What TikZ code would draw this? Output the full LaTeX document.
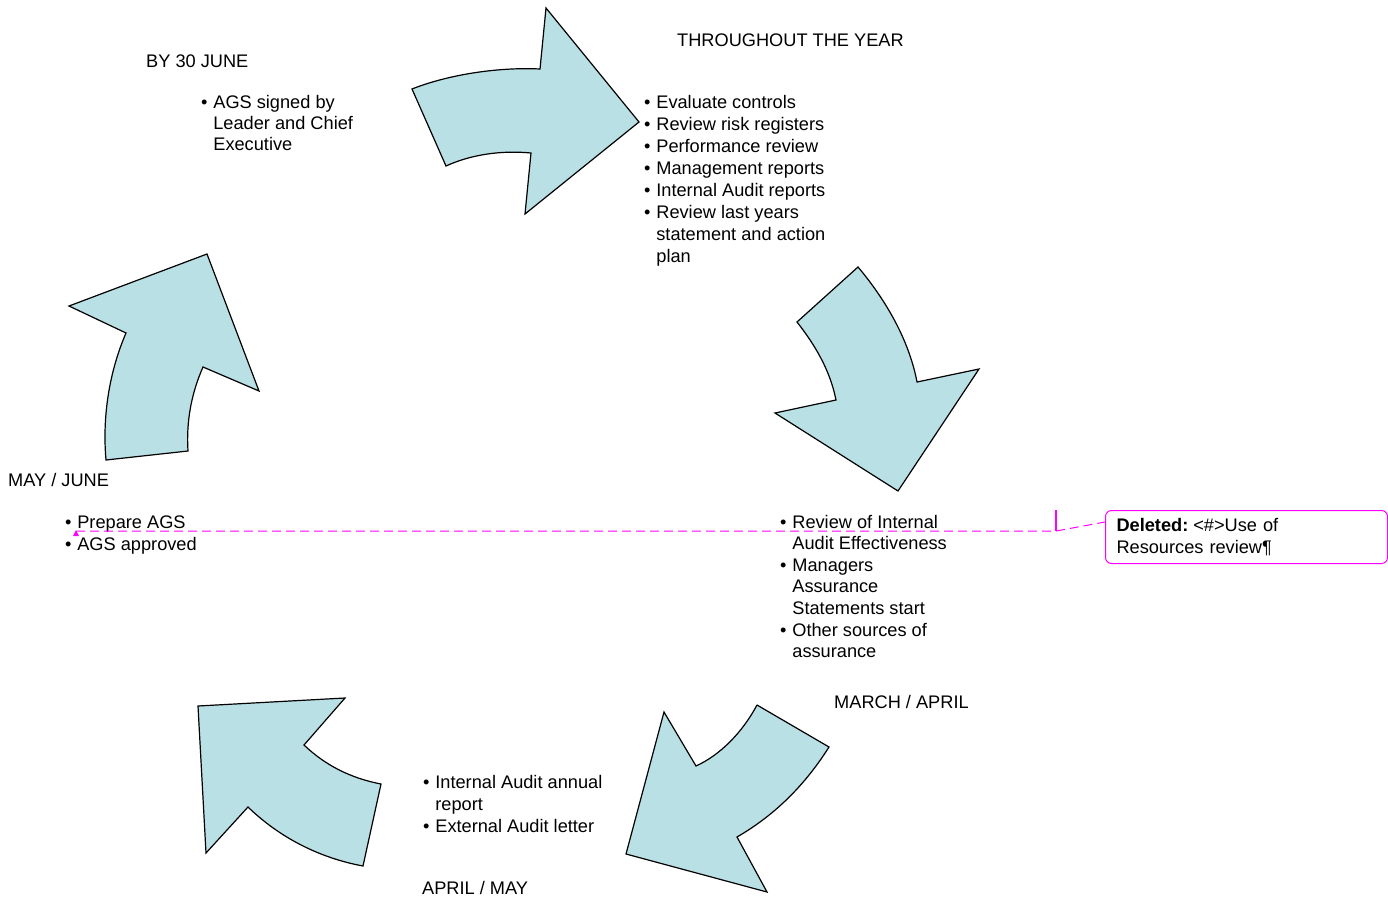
\documentclass[tikz,border=0pt]{standalone}
\usepackage{fontspec}
\setmainfont{Liberation Sans}
\definecolor{arrowfill}{RGB}{185,224,228}
\definecolor{markup}{RGB}{255,0,255}
\newcommand{\bulletlist}[1]{\begin{tabular}[t]{@{}l@{\hspace{6pt}}l@{}}#1\end{tabular}}
\tikzset{
  cyclearrow/.style={fill=arrowfill, draw=black, line width=1.2pt},
  lbl/.style={anchor=base west, inner sep=0pt},
}
\begin{document}
\begin{tikzpicture}[x=1pt, y=-1pt, font=\fontsize{18.2}{22.1}\selectfont]
\useasboundingbox (0,0) rectangle (1388,902);
% the five arrows
\draw[cyclearrow] (412,89) .. controls (450,74) and (500,67) .. (540,69) -- (546,8) -- (639,122)
  -- (525,214) -- (531,153) .. controls (500,150) and (470,155) .. (446,166) -- cycle;
\draw[cyclearrow] (858,267) .. controls (890,305) and (910,345) .. (917,382) -- (979,369) -- (898,491)
  -- (775,413) -- (836,400) .. controls (830,370) and (815,345) .. (797,322) -- cycle;
\draw[cyclearrow] (757,705) -- (829,747) .. controls (805,785) and (775,815) .. (737,837) -- (767,892)
  -- (626,854) -- (664,712) -- (696,766) .. controls (720,755) and (742,733) .. (757,705);
\draw[cyclearrow] (198,706) -- (345,698) -- (304,745) .. controls (325,765) and (350,778) .. (381,784)
  -- (363,866) .. controls (320,858) and (280,838) .. (248,807) -- (206,853) -- cycle;
\draw[cyclearrow] (207,254) -- (259,391) -- (203,367) .. controls (192,392) and (186,420) .. (188,451)
  -- (106,460) .. controls (102,415) and (110,370) .. (126,333) -- (69,306) -- cycle;
% headings
\node[lbl] (june) at (146,67.5) {BY 30 JUNE};
\node[lbl] (year) at (677,46.5) {THROUGHOUT THE YEAR};
\node[lbl] (mayjune) at (8,486.5) {MAY / JUNE};
\node[lbl] (march) at (834,708.5) {MARCH / APRIL};
\node[lbl] (aprmay) at (422,894.5) {APRIL / MAY};
% tasks
\node[lbl] (signed) at (200.8,108) {\renewcommand{\arraystretch}{0.96}\bulletlist{\textbullet & AGS signed by\\ & Leader and Chief\\ & Executive}};
\node[lbl] (yeartasks) at (643.8,108) {\bulletlist{\textbullet & Evaluate controls\\
  \textbullet & Review risk registers\\ \textbullet & Performance review\\
  \textbullet & Management reports\\ \textbullet & Internal Audit reports\\
  \textbullet & Review last years\\ & statement and action\\ & plan}};
\node[lbl] (prepare) at (64.8,528) {\bulletlist{\textbullet & Prepare AGS\\ \textbullet & AGS approved}};
\node[lbl] (review) at (779.8,528) {\renewcommand{\arraystretch}{0.98}\bulletlist{\textbullet & Review of Internal\\ & Audit Effectiveness\\
  \textbullet & Managers\\ & Assurance\\ & Statements start\\
  \textbullet & Other sources of\\ & assurance}};
\node[lbl] (annual) at (422.8,788) {\bulletlist{\textbullet & Internal Audit annual\\ & report\\
  \textbullet & External Audit letter}};
% tracked change
\node[anchor=north west, draw=markup, line width=1pt, rounded corners=6pt, minimum width=282pt,
  minimum height=53pt, inner xsep=11pt, text width=260pt, align=left] (del) at (1105,510)
  {\textbf{Deleted:}\hspace{5pt}<\#>Use of\\ Resources review¶};
\coordinate (ins) at (76,531);
\coordinate (mk) at (1056,531);
\draw[markup, dash pattern=on 9pt off 5pt, line width=1pt] (ins) -- (mk) -- ([yshift=-12pt]del.north west);
\draw[markup, line width=1.2pt] (mk) -- ++(0,-21);
\fill[markup] ([xshift=-3pt,yshift=-5pt]ins) -- ([xshift=3pt,yshift=-5pt]ins) -- ([yshift=1pt]ins) -- cycle;
\end{tikzpicture}
\end{document}
